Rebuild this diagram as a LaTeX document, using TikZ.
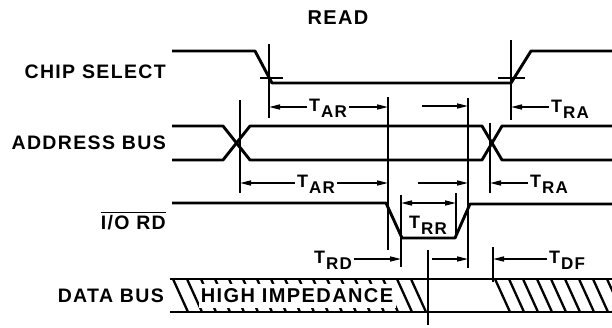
\documentclass[tikz,border=0pt]{standalone}
\usepackage{fontspec}
\setmainfont{Liberation Sans}[LetterSpace=7]
\usetikzlibrary{arrows.meta}
\newcommand\tsub[2]{#1\kern1pt\raisebox{-6pt}{\fontsize{17}{17}\selectfont #2}}
\begin{document}
\begin{tikzpicture}[x=1pt,y=-1pt,
  sig/.style={line width=2.9pt, line join=round},
  refl/.style={line width=1.3pt},
  tip/.tip={Triangle[length=11pt,width=5pt]},
  dim/.style={line width=1.4pt, -tip},
  lab/.style={font=\fontsize{19.5}{19.5}\selectfont\bfseries, inner sep=0pt},
  tlab/.style={font=\fontsize{18}{18}\selectfont\bfseries, inner sep=2pt, anchor=base},
  hatch/.style={line width=2.3pt}]
\useasboundingbox (0,0) rectangle (612,327);

% title
\node[font=\fontsize{20}{20}\selectfont\bfseries] (title) at (338,18) {READ};

% signal names
\node[lab, anchor=east] (cs) at (166,72) {CHIP SELECT};
\node[lab, anchor=east] (ab) at (166,143) {ADDRESS BUS};
\node[lab, anchor=east] (io) at (166,223) {I/O RD};
\draw[line width=1.6pt] ([yshift=3pt]io.north west) -- ([yshift=3pt]io.north east);
\node[lab, anchor=east] (db) at (164,296) {DATA BUS};

% reference lines
\draw[refl] (269,44) -- (269,118);
\draw[refl] (260,78) -- (283,78);
\draw[refl] (511,40) -- (511,120);
\draw[refl] (498,78) -- (525,78);
\draw[refl] (240,100) -- (240,193);
\draw[refl] (388,97) -- (388,250);
\draw[refl] (468,98) -- (468,268);
\draw[refl] (490,123) -- (490,193);
\draw[refl] (401,195) -- (401,267);
\draw[refl] (456,193) -- (456,238);
\draw[refl] (428,250) -- (428,325);
\draw[refl] (493,247) -- (493,282);

% chip select
\draw[sig] (172,51) -- (255,51) -- (272,83) -- (511,83) -- (531,51) -- (612,51);
% address bus
\draw[sig] (172,126) -- (223,126) -- (250,160) -- (482,160) -- (502,126) -- (612,126);
\draw[sig] (172,160) -- (223,160) -- (250,126) -- (482,126) -- (502,160) -- (612,160);
% I/O RD
\draw[sig] (172,203) -- (386,203) -- (402,238) -- (455,238) -- (470,204) -- (612,204);

% data bus hatching
\begin{scope}
  \clip (170,279) rectangle (428,312);
  \foreach \x in {173,187,...,420} \draw[hatch] (\x,279) -- ++(15,33);
\end{scope}
\begin{scope}
  \clip (493,279) rectangle (612,312);
  \foreach \x in {495,509,...,612} \draw[hatch] (\x,279) -- ++(15,33);
\end{scope}
\node[fill=white, inner sep=0pt, minimum width=197pt, minimum height=24pt,
      font=\fontsize{20}{20}\selectfont\bfseries] (hi) at (297,296) {HIGH IMPEDANCE};
\draw[sig] (170,279) -- (612,279);
\draw[sig] (170,312) -- (612,312);

% row 1 dimensions
\coordinate (a1l) at (269,107);
\coordinate (a1r) at (388,107);
\node[tlab] (tar1) at (328,111) {\tsub{T}{AR}};
\draw[dim] (tar1.west |- a1l) -- (a1l);
\draw[dim] (tar1.east |- a1r) -- (a1r);
\coordinate (b1s) at (422,106);
\coordinate (b1e) at (468,106);
\draw[dim] (b1s) -- (b1e);
\coordinate (c1) at (511,107);
\node[tlab, anchor=base west] (tra1) at (549,112) {\tsub{T}{RA}};
\draw[dim] (tra1.west |- c1) -- (c1);

% row 2 dimensions
\coordinate (a2l) at (240,183);
\coordinate (a2r) at (388,183);
\node[tlab] (tar2) at (316,187) {\tsub{T}{AR}};
\draw[dim] (tar2.west |- a2l) -- (a2l);
\draw[dim] (tar2.east |- a2r) -- (a2r);
\coordinate (b2s) at (418,183);
\coordinate (b2e) at (468,183);
\draw[dim] (b2s) -- (b2e);
\coordinate (c2) at (490,183);
\node[tlab, anchor=base west] (tra2) at (528,187) {\tsub{T}{RA}};
\draw[dim] (tra2.west |- c2) -- (c2);

% T_RR
\coordinate (rr1) at (401,203);
\coordinate (rr2) at (456,203);
\draw[dim, tip-tip] (rr1) -- (rr2);
\node[tlab] (trr) at (428,228) {\tsub{T}{RR}};

% data row dimensions
\coordinate (d1) at (401,259);
\node[tlab] (trd) at (333,263) {\tsub{T}{RD}};
\draw[dim] (trd.east |- d1) -- (d1);
\coordinate (d2s) at (432,259);
\coordinate (d2e) at (468,259);
\draw[dim] (d2s) -- (d2e);
\coordinate (d3) at (493,259);
\node[tlab, anchor=base west] (tdf) at (547,263) {\tsub{T}{DF}};
\draw[dim] (tdf.west |- d3) -- (d3);
\end{tikzpicture}
\end{document}
